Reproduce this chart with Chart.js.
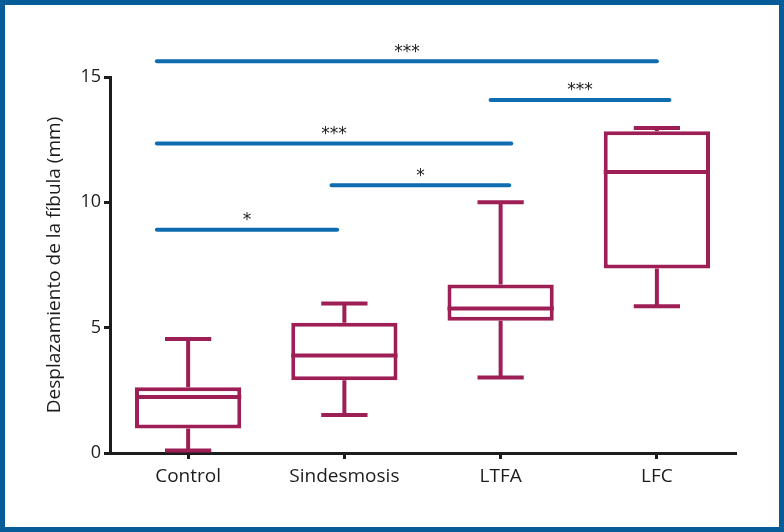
<!DOCTYPE html>
<html>
<head>
<meta charset="utf-8">
<script src="https://cdn.jsdelivr.net/npm/chart.js@4.4.1/dist/chart.umd.min.js"></script>
<style>
  body { margin: 0; background: #fff; }
  #wrap { width: 784px; height: 532px; position: relative; }
</style>
</head>
<body>
<div id="wrap"><canvas id="chart"></canvas></div>
<script>
const categories = ['Control', 'Sindesmosis', 'LTFA', 'LFC'];
const minValues = [0.1, 1.52, 3.01, 5.85];
const q1Values = [0.98, 2.9, 5.28, 7.36];
const medianValues = [2.23, 3.89, 5.76, 11.21];
const q3Values = [2.62, 5.2, 6.72, 12.84];
const maxValues = [4.55, 5.96, 10.0, 12.97];

// significance brackets: start / end (category index units), height, label
const sigFrom = [-0.2, 1.936, -0.2, 0.918, -0.2];
const sigTo = [3.0, 3.08, 2.068, 2.055, 0.954];
const sigLevel = [15.63, 14.08, 12.35, 10.68, 8.91];
const sigLabels = ['***', '***', '***', '*', '*'];

const yTicks = [0, 5, 10, 15];

const maroon = '#9e1f56';
const blue = '#0f6cb0';
const frame = '#065c98';
const ink = '#1c1c1c';

const boxPlugin = {
    id: 'boxExtras',
    afterDatasetsDraw(chart) {
        const ctx = chart.ctx;
        const x = chart.scales.x;
        const y = chart.scales.y;
        const meta = chart.getDatasetMeta(0);
        ctx.save();
        ctx.strokeStyle = maroon;
        ctx.lineWidth = 4;
        ctx.lineCap = 'butt';
        const capHalf = (x.getPixelForValue(1) - x.getPixelForValue(0)) * 0.148;
        categories.forEach((c, i) => {
            const cx = x.getPixelForValue(i);
            const bar = meta.data[i];
            const half = bar.width / 2;
            ctx.beginPath();
            // median
            ctx.moveTo(cx - half, y.getPixelForValue(medianValues[i]));
            ctx.lineTo(cx + half, y.getPixelForValue(medianValues[i]));
            // whiskers
            ctx.moveTo(cx, y.getPixelForValue(q3Values[i]));
            ctx.lineTo(cx, y.getPixelForValue(maxValues[i]));
            ctx.moveTo(cx, y.getPixelForValue(q1Values[i]));
            ctx.lineTo(cx, y.getPixelForValue(minValues[i]));
            // caps
            ctx.moveTo(cx - capHalf, y.getPixelForValue(maxValues[i]));
            ctx.lineTo(cx + capHalf, y.getPixelForValue(maxValues[i]));
            ctx.moveTo(cx - capHalf, y.getPixelForValue(minValues[i]));
            ctx.lineTo(cx + capHalf, y.getPixelForValue(minValues[i]));
            ctx.stroke();
        });

        // significance bars
        ctx.strokeStyle = blue;
        ctx.lineWidth = 4;
        ctx.lineCap = 'round';
        ctx.fillStyle = ink;
        ctx.font = '17px "DejaVu Sans"';
        ctx.textAlign = 'center';
        ctx.textBaseline = 'middle';
        sigLabels.forEach((lab, i) => {
            const x1 = x.getPixelForValue(sigFrom[i]);
            const x2 = x.getPixelForValue(sigTo[i]);
            const py = y.getPixelForValue(sigLevel[i]);
            ctx.beginPath();
            ctx.moveTo(x1, py);
            ctx.lineTo(x2, py);
            ctx.stroke();
            ctx.fillText(lab, (x1 + x2) / 2, py - 9);
        });
        ctx.restore();
    },
    afterDraw(chart) {
        const ctx = chart.ctx;
        ctx.save();
        ctx.strokeStyle = frame;
        ctx.lineWidth = 5;
        ctx.strokeRect(2.5, 2.5, chart.width - 5, chart.height - 5);
        ctx.restore();
    }
};

new Chart(document.getElementById('chart'), {
    type: 'bar',
    data: {
        labels: categories,
        datasets: [{
            data: q1Values.map((q1, i) => [q1, q3Values[i]]),
            backgroundColor: '#ffffff',
            borderColor: maroon,
            borderWidth: 4,
            borderSkipped: false,
            barPercentage: 0.68,
            categoryPercentage: 1
        }]
    },
    options: {
        responsive: true,
        maintainAspectRatio: false,
        animation: false,
        layout: { padding: { top: 77, right: 49, left: 0, bottom: 0 } },
        plugins: {
            legend: { display: false },
            tooltip: { enabled: false }
        },
        scales: {
            x: {
                grid: { display: true, offset: false, drawOnChartArea: false, drawTicks: true, tickLength: 6, color: ink, lineWidth: 3 },
                border: { display: true, color: ink, width: 3 },
                ticks: { color: ink, font: { family: '"Open Sans"', size: 19 }, padding: 6 },
                afterFit: s => { s.height = 79; }
            },
            y: {
                min: 0,
                max: 15,
                afterBuildTicks: s => { s.ticks = yTicks.map(v => ({ value: v })); },
                grid: { display: true, drawOnChartArea: false, drawTicks: true, tickLength: 6, color: ink, lineWidth: 3 },
                border: { display: true, color: ink, width: 3 },
                ticks: { color: ink, font: { family: '"Open Sans"', size: 18 }, padding: 3 },
                title: {
                    display: true,
                    text: 'Desplazamiento de la fíbula (mm)',
                    color: ink,
                    font: { family: '"Open Sans"', size: 19 },
                    padding: { top: 43, bottom: 0 }
                },
                afterFit: s => { s.width = 110; }
            }
        }
    },
    plugins: [boxPlugin]
});
</script>
</body>
</html>
